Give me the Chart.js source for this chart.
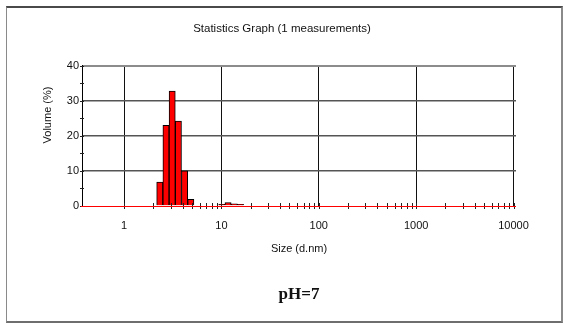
<!DOCTYPE html>
<html>
<head>
<meta charset="utf-8">
<title>Statistics Graph</title>
<script src="https://cdn.jsdelivr.net/npm/chart.js@4/dist/chart.umd.min.js"></script>
<style>
  html, body { margin: 0; padding: 0; background: #fff; }
  #wrap { position: relative; width: 564px; height: 323px; overflow: hidden; }
  #wrap canvas { position: absolute; left: 0; top: 0; }
  #frame {
    position: absolute; left: 6px; top: 6px; width: 554px; height: 313px;
    border-left: 1px solid #8a8a8a; border-top: 2px solid #4a4a4a;
    border-right: 2px solid #8a8a8a; border-bottom: 2px solid #6e6e6e;
    pointer-events: none;
  }
</style>
</head>
<body>
<div id="wrap">
  <canvas id="chart" width="564" height="323"></canvas>
  <div id="frame"></div>
</div>
<script>
// Size classes (d.nm, bin centres) and the volume share of each class (%)
const sizes   = [2.328, 2.696, 3.122, 3.615, 4.187, 4.849, 5.615, 6.503, 7.531, 8.721, 10.10, 11.70, 13.54, 15.69];
const volumes = [6.8,   23.0,  32.8,  24.2,  10.0,  1.9,   null,  null,  null,  null,  0.5,   1.0,   0.6,   0.5];

// Axis ticks
const decades = [1, 10, 100, 1000, 10000];
const steps   = [1, 2, 3, 4, 5, 6, 7, 8, 9];
const yTickValues  = [0, 5, 10, 15, 20, 25, 30, 35, 40];
const yLabelValues = [0, 10, 20, 30, 40];

const xTickValues = [];
decades.slice(0, -1).forEach(d => steps.forEach(s => xTickValues.push(d * s)));
xTickValues.push(decades[decades.length - 1]);

const SANS = '"Liberation Sans", Arial, sans-serif';
const SERIF = '"Liberation Serif", "Times New Roman", serif';
const isDecade = v => decades.includes(v);

// Short tick marks across both axes, plus the rotated y-axis title
const axisMarks = {
  id: 'axisMarks',
  afterDraw(chart) {
    const { ctx, chartArea, scales: { x, y } } = chart;
    ctx.save();
    ctx.strokeStyle = '#222';
    ctx.lineWidth = 1;
    ctx.beginPath();
    x.ticks.forEach(t => {
      const px = Math.round(x.getPixelForValue(t.value)) + 0.5;
      ctx.moveTo(px, chartArea.bottom - 3);
      ctx.lineTo(px, chartArea.bottom + 3);
    });
    y.ticks.forEach(t => {
      const py = Math.round(y.getPixelForValue(t.value)) + 0.5;
      ctx.moveTo(chartArea.left - 2, py);
      ctx.lineTo(chartArea.left + 2, py);
    });
    ctx.stroke();
    // red baseline on top of the marks
    ctx.strokeStyle = '#ff0000';
    ctx.beginPath();
    const by = Math.round(y.getPixelForValue(0)) + 0.5;
    ctx.moveTo(chartArea.left - 1, by);
    ctx.lineTo(chartArea.right, by);
    ctx.stroke();

    ctx.translate(48, 115);
    ctx.rotate(-Math.PI / 2);
    ctx.font = '11px ' + SANS;
    ctx.fillStyle = '#111';
    ctx.textAlign = 'center';
    ctx.textBaseline = 'middle';
    ctx.fillText('Volume (%)', 0, 0);
    ctx.restore();
  }
};

new Chart(document.getElementById('chart'), {
  type: 'bar',
  data: {
    datasets: [{
      label: 'Volume (%)',
      data: sizes.map((s, i) => ({ x: s, y: volumes[i] })),
      backgroundColor: '#ff0000',
      borderColor: '#000000',
      borderWidth: 1,
      barThickness: 'flex',
      categoryPercentage: 1,
      barPercentage: 1
    }]
  },
  plugins: [axisMarks],
  options: {
    responsive: false,
    animation: false,
    layout: { padding: { left: 0, right: 0, top: 0, bottom: 0 } },
    plugins: {
      legend: { display: false },
      tooltip: { enabled: false },
      title: {
        display: true,
        text: 'Statistics Graph (1 measurements)',
        color: '#111',
        font: { family: SANS, size: 11.5, weight: 'normal' },
        padding: { top: 22, bottom: 30 }
      },
      subtitle: {
        display: true,
        position: 'bottom',
        fullSize: false,
        text: 'pH=7',
        color: '#111',
        font: { family: SERIF, size: 17, weight: 'bold' },
        padding: { top: 28.4, bottom: 18.3 }
      }
    },
    scales: {
      x: {
        type: 'logarithmic',
        offset: false,
        min: 0.37,
        max: 10600,
        afterBuildTicks: s => { s.ticks = xTickValues.map(v => ({ value: v, major: isDecade(v) })); },
        afterFit: s => { s.height = 49.9; },
        ticks: {
          autoSkip: false,
          maxRotation: 0,
          padding: 13,
          color: '#111',
          font: { family: SANS, size: 11 },
          callback: v => isDecade(v) ? String(v) : ''
        },
        grid: {
          offset: false,
          drawTicks: false,
          color: c => (c.tick && isDecade(c.tick.value)) ? '#111' : 'rgba(0,0,0,0)',
          lineWidth: 1
        },
        border: { display: false },
        title: {
          display: true,
          text: 'Size (d.nm)',
          color: '#111',
          font: { family: SANS, size: 11 },
          padding: { top: 10, bottom: 0 }
        }
      },
      y: {
        min: 0,
        max: 40,
        afterBuildTicks: s => { s.ticks = yTickValues.map(v => ({ value: v })); },
        afterFit: s => { s.width = 82; },
        ticks: {
          autoSkip: false,
          padding: 3,
          color: '#111',
          font: { family: SANS, size: 11 },
          callback: v => yLabelValues.includes(v) ? String(v) : ''
        },
        grid: {
          drawTicks: false,
          color: c => {
            const v = c.tick ? c.tick.value : -1;
            if (v === 40) return '#8c8c8c';
            if (v > 0 && v % 10 === 0) return '#555';
            return 'rgba(0,0,0,0)';
          },
          lineWidth: c => (c.tick && c.tick.value === 40) ? 2 : 1.5
        },
        border: { color: '#000', width: 1 }
      },
      yRight: {
        position: 'right',
        display: true,
        afterFit: s => { s.width = 48; },
        ticks: { display: false },
        grid: { display: false, drawTicks: false },
        border: { display: false }
      }
    }
  }
});
</script>
</body>
</html>
